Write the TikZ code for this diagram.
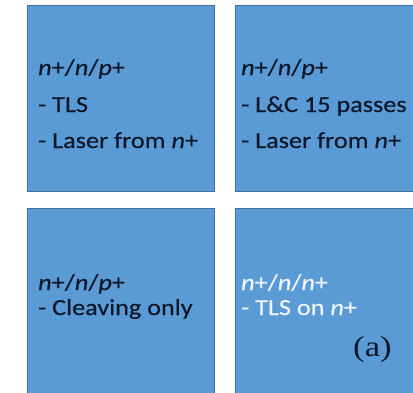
\documentclass[tikz,border=0pt]{standalone}
\usepackage{fontspec}
\setmainfont{Carlito}[FakeStretch=1.14, FakeBold=0.4]
\newfontfamily\labelfont{Liberation Serif}[FakeStretch=1.2]
\definecolor{panelfill}{RGB}{91,155,213}
\definecolor{paneledge}{RGB}{65,113,156}
\definecolor{darktext}{RGB}{12,24,42}
\definecolor{lighttext}{RGB}{240,245,252}
\tikzset{
  panel/.style={fill=panelfill, draw=paneledge, line width=0.8pt},
  line/.style={anchor=base west, inner sep=0pt, text=darktext,
    font=\fontsize{23}{27}\selectfont},
  whiteline/.style={line, text=lighttext},
}
\begin{document}
\begin{tikzpicture}[x=1pt, y=-1pt]
  \useasboundingbox (0,0) rectangle (413,392);
  \clip (0,0) rectangle (413,392);
  % four sample panels
  \draw[panel] (27,5) rectangle (214,191);
  \draw[panel] (235,5) rectangle (430,191);
  \draw[panel] (27,208) rectangle (214,410);
  \draw[panel] (235,208) rectangle (430,410);
  % top left
  \node[line] (a1) at (38,75) {\textit{n}+/\textit{n}/\textit{p}+};
  \node[line] (a2) at (38,112) {- TLS};
  \node[line] (a3) at (38,148) {- Laser from \textit{n}+};
  % top right
  \node[line] (b1) at (241,75) {\textit{n}+/\textit{n}/\textit{p}+};
  \node[line] (b2) at (241,112) {- L\&C 15 passes};
  \node[line] (b3) at (241,148) {- Laser from \textit{n}+};
  % bottom left
  \node[line] (c1) at (38,290) {\textit{n}+/\textit{n}/\textit{p}+};
  \node[line] (c2) at (38,315) {- Cleaving only};
  % bottom right
  \node[whiteline] (d1) at (241,290) {\textit{n}+/\textit{n}/\textit{n}+};
  \node[whiteline] (d2) at (241,315) {- TLS on \textit{n}+};
  \node[line, font=\labelfont\fontsize{29}{33}\selectfont] (tag) at (353,356) {(a)};
\end{tikzpicture}
\end{document}
